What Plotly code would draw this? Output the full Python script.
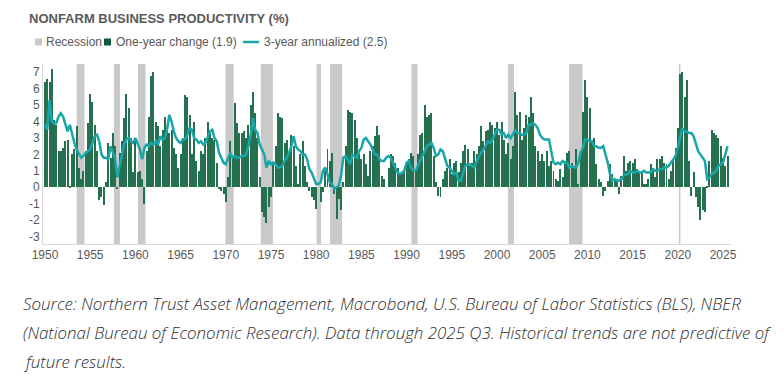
import plotly.graph_objects as go

# ---------------- data ----------------
start_year = 1950
quarters_per_year = 4

# One-year change (%), quarterly, 1950Q1 .. 2025Q3
one_year_change = [
    6.4, 6.6, 6.4, 7.2,     # 1950
    4.1, 3.8, 2.2, 2.2,     # 1951
    2.4, 2.8, 2.9, 0.1,     # 1952
    2.0, 2.3, 3.7, 1.2,     # 1953
    0.5, 1.0, 2.2, 3.9,     # 1954
    5.7, 5.2, 3.8, 2.2,     # 1955
    -0.8, -0.6, -1.1, 0.3,  # 1956
    2.7, 1.8, 3.3, 2.5,     # 1957
    -0.1, 2.1, 2.8, 4.2,    # 1958
    5.7, 4.8, 3.0, 0.9,     # 1959
    3.0, 0.9, 1.0, 0.5,     # 1960
    -1.0, 2.2, 4.3, 6.8,    # 1961
    7.0, 4.0, 3.7, 2.5,     # 1962
    3.5, 4.3, 3.5, 3.3,     # 1963
    3.5, 2.4, 2.0, 1.2,     # 1964
    2.0, 3.0, 5.6, 5.5,     # 1965
    4.4, 2.0, 4.0, 1.6,     # 1966
    1.0, 2.2, 2.0, 3.0,     # 1967
    4.0, 3.3, 3.0, 2.9,     # 1968
    1.5, -0.1, -0.2, -0.4,  # 1969
    -0.9, 0.6, 2.8, 1.9,    # 1970
    5.1, 3.9, 3.3, 3.3,     # 1971
    3.4, 3.0, 3.8, 5.0,     # 1972
    5.8, 4.5, 3.0, 0.6,     # 1973
    -1.5, -1.8, -2.2, -1.2, # 1974
    -0.6, 1.5, 2.5, 4.5,    # 1975
    4.3, 4.2, 2.7, 2.9,     # 1976
    2.0, 3.2, 2.5, 1.3,     # 1977
    0.2, 2.0, 2.8, 1.3,     # 1978
    0.3, -0.2, -0.6, -0.8,  # 1979
    -1.3, 0.0, -0.9, -0.3,  # 1980
    1.0, 2.3, 1.6, 2.1,     # 1981
    -0.4, -1.9, -0.7, -1.4, # 1982
    0.3, 2.5, 4.7, 4.6,     # 1983
    4.5, 4.1, 3.0, 2.0,     # 1984
    1.7, 2.0, 1.4, 0.7,     # 1985
    2.2, 2.5, 3.1, 3.7,     # 1986
    3.2, 0.7, 0.5, 0.0,     # 1987
    1.2, 2.0, 1.9, 1.5,     # 1988
    1.2, 0.8, 0.8, 0.9,     # 1989
    1.5, 1.7, 2.1, 1.9,     # 1990
    1.0, 2.0, 3.2, 3.3,     # 1991
    5.0, 4.3, 4.4, 4.5,     # 1992
    1.9, 0.3, -0.5, -0.6,   # 1993
    0.5, 1.0, 1.2, 1.7,     # 1994
    0.8, 1.5, 1.6, 0.9,     # 1995
    1.5, 2.2, 2.6, 2.3,     # 1996
    1.3, 1.5, 2.2, 2.0,     # 1997
    2.5, 3.7, 2.8, 3.4,     # 1998
    3.5, 4.0, 3.8, 3.6,     # 1999
    4.0, 3.2, 4.0, 2.9,     # 2000
    2.0, 2.7, 1.7, 2.5,     # 2001
    5.8, 4.4, 4.6, 2.9,     # 2002
    3.6, 4.4, 4.3, 5.5,     # 2003
    4.5, 2.5, 2.2, 1.6,     # 2004
    2.0, 1.6, 2.2, 1.3,     # 2005
    1.6, 1.0, 0.5, 0.4,     # 2006
    1.1, 0.6, 1.6, 2.1,     # 2007
    2.2, 1.5, 1.3, 2.3,     # 2008
    0.2, 2.2, 4.6, 6.5,     # 2009
    5.5, 4.8, 2.8, 3.0,     # 2010
    1.4, 0.5, 0.3, -0.5,    # 2011
    -0.2, 0.4, 1.4, 0.8,    # 2012
    0.5, 0.5, -0.4, 0.7,    # 2013
    1.9, 1.0, 1.5, 1.6,     # 2014
    1.5, 1.7, 1.1, 0.9,     # 2015
    1.0, 0.2, 0.2, 0.5,     # 2016
    1.4, 1.2, 0.6, 1.7,     # 2017
    1.7, 1.9, 1.5, 1.4,     # 2018
    0.5, 1.0, 1.6, 2.4,     # 2019
    3.6, 6.9, 7.0, 5.5,     # 2020
    6.5, 1.6, -0.5, 0.9,    # 2021
    -0.6, -1.2, -2.0, -1.4, # 2022
    -1.5, 0.1, 1.6, 3.5,    # 2023
    3.3, 3.2, 3.0, 2.5,     # 2024
    1.8, 1.3, 1.9,          # 2025
]

# 3-year annualized (%), quarterly, 1950Q1 .. 2025Q3
three_year_annualized = [
    3.8, 3.5, 5.3, 4.0,     # 1950
    3.9, 3.9, 4.3, 4.5,     # 1951
    4.3, 3.9, 3.4, 3.8,     # 1952
    3.2, 2.7, 2.3, 2.0,     # 1953
    1.8, 1.9, 2.1, 2.2,     # 1954
    2.3, 2.7, 3.1, 3.2,     # 1955
    2.8, 2.0, 1.8, 1.8,     # 1956
    1.7, 2.5, 2.2, 1.8,     # 1957
    0.6, 1.2, 2.0, 2.6,     # 1958
    2.9, 3.0, 2.8, 2.7,     # 1959
    3.0, 2.6, 2.3, 1.7,     # 1960
    2.4, 2.6, 2.5, 2.7,     # 1961
    2.6, 2.8, 2.6, 3.1,     # 1962
    2.9, 3.0, 3.5, 4.4,     # 1963
    4.0, 3.4, 3.0, 2.8,     # 1964
    2.7, 2.9, 2.9, 3.2,     # 1965
    3.6, 3.5, 3.0, 2.9,     # 1966
    2.7, 2.8, 2.6, 2.7,     # 1967
    3.0, 3.4, 3.5, 3.0,     # 1968
    2.8, 2.1, 1.8, 1.5,     # 1969
    1.4, 1.8, 2.1, 1.8,     # 1970
    1.9, 1.8, 1.8, 1.9,     # 1971
    1.9, 2.0, 2.5, 3.2,     # 1972
    4.2, 3.5, 3.3, 2.6,     # 1973
    2.3, 2.0, 1.2, 1.6,     # 1974
    1.4, 1.5, 1.4, 1.2,     # 1975
    1.2, 1.3, 1.6, 1.8,     # 1976
    2.1, 2.5, 3.1, 2.5,     # 1977
    2.3, 2.2, 2.0, 2.0,     # 1978
    1.7, 1.1, 0.9, 0.6,     # 1979
    0.2, 0.2, 0.3, 1.0,     # 1980
    1.2, 0.8, 0.3, 0.2,     # 1981
    -0.1, 0.0, 0.1, 0.7,    # 1982
    1.8, 1.9, 1.7, 1.4,     # 1983
    2.0, 1.9, 1.8, 2.2,     # 1984
    2.4, 2.9, 3.0, 2.8,     # 1985
    2.6, 2.3, 2.0, 2.0,     # 1986
    1.7, 1.6, 1.6, 1.8,     # 1987
    1.9, 1.8, 1.5, 1.2,     # 1988
    0.9, 0.8, 0.9, 1.0,     # 1989
    1.5, 1.6, 1.2, 1.0,     # 1990
    1.0, 1.3, 1.6, 1.9,     # 1991
    2.3, 2.5, 2.6, 2.7,     # 1992
    2.4, 1.9, 2.0, 2.3,     # 1993
    2.2, 1.8, 1.3, 1.2,     # 1994
    1.0, 0.8, 0.9, 0.4,     # 1995
    0.4, 0.9, 1.3, 1.4,     # 1996
    1.4, 1.3, 1.2, 1.6,     # 1997
    1.9, 2.1, 2.3, 2.6,     # 1998
    2.8, 2.7, 2.9, 3.2,     # 1999
    3.5, 3.5, 3.2, 3.3,     # 2000
    3.0, 3.2, 3.0, 3.2,     # 2001
    3.5, 3.3, 3.3, 3.2,     # 2002
    3.2, 3.3, 3.8, 3.8,     # 2003
    3.9, 3.8, 3.6, 3.2,     # 2004
    3.0, 2.9, 2.9, 2.9,     # 2005
    2.2, 1.5, 1.4, 1.5,     # 2006
    1.4, 1.6, 1.5, 1.5,     # 2007
    1.2, 1.3, 1.2, 1.2,     # 2008
    1.5, 2.1, 2.4, 2.9,     # 2009
    2.9, 2.8, 2.8, 2.5,     # 2010
    2.5, 2.4, 2.4, 2.5,     # 2011
    2.0, 1.5, 0.8, 0.4,     # 2012
    0.5, 0.4, 0.4, 0.5,     # 2013
    0.7, 0.8, 0.8, 1.0,     # 2014
    0.9, 0.9, 1.0, 0.9,     # 2015
    0.9, 1.0, 0.9, 0.9,     # 2016
    0.9, 1.1, 1.0, 1.0,     # 2017
    1.1, 1.1, 1.2, 1.2,     # 2018
    1.3, 1.5, 1.7, 1.9,     # 2019
    2.4, 3.0, 3.6, 3.4,     # 2020
    3.4, 3.3, 3.3, 3.1,     # 2021
    2.7, 2.2, 2.0, 1.8,     # 2022
    1.6, 0.5, 0.6, 0.8,     # 2023
    0.9, 1.0, 1.3, 1.4,     # 2024
    1.5, 2.0, 2.5,          # 2025
]

# NBER recessions (peak, trough) in decimal years
recession_starts = [1953.50, 1957.62, 1960.29, 1969.96, 1973.87, 1980.04,
                    1981.54, 1990.54, 2001.21, 2007.96, 2020.12]
recession_ends = [1954.37, 1958.29, 1961.12, 1970.87, 1975.21, 1980.54,
                  1982.87, 1991.21, 2001.87, 2009.46, 2020.29]

tick_years = list(range(1950, 2030, 5))
tick_labels = [str(y) for y in tick_years]
y_ticks = list(range(-3, 8))

title_text = "NONFARM BUSINESS PRODUCTIVITY (%)"
legend_labels = ["Recession", "One-year change (1.9)", "3-year annualized (2.5)"]
footnote_lines = [
    "Source: Northern Trust Asset Management, Macrobond, U.S. Bureau of Labor Statistics (BLS), NBER",
    "(National Bureau of Economic Research). Data through 2025 Q3. Historical trends are not predictive of",
    "future results.",
]

# ---------------- styling ----------------
W, H = 784, 378
ML, MR, MT, MB = 43, 53, 64, 134
PW, PH = W - ML - MR, H - MT - MB

GREEN = "#24704f"
GREEN_LEG = "#0f5a3c"
TEAL = "#18a6a8"
GREY_REC = "#c9c9c9"
TXT = "#595959"
FONT = "Liberation Sans, Arial, sans-serif"


def fx(px):
    return (px - ML) / PW


def fy(py):
    return (H - MB - py) / PH


x_q = [start_year + i / quarters_per_year for i in range(len(one_year_change))]

fig = go.Figure()
fig.add_trace(go.Bar(
    x=x_q, y=one_year_change, width=0.11,
    marker=dict(color=GREEN, line=dict(width=0)),
    name=legend_labels[1], showlegend=False,
))
fig.add_trace(go.Scatter(
    x=x_q, y=three_year_annualized, mode="lines",
    line=dict(color=TEAL, width=2.5),
    name=legend_labels[2], showlegend=False,
))

shapes = []
for s, e in zip(recession_starts, recession_ends):
    shapes.append(dict(type="rect", xref="x", yref="paper", x0=s, x1=e, y0=0, y1=1,
                       fillcolor=GREY_REC, line=dict(width=0), layer="below"))

# manual legend
leg_y = 42
shapes.append(dict(type="rect", xref="paper", yref="paper",
                   x0=fx(35), x1=fx(42), y0=fy(leg_y + 3.5), y1=fy(leg_y - 3.5),
                   fillcolor=GREY_REC, line=dict(width=0)))
shapes.append(dict(type="rect", xref="paper", yref="paper",
                   x0=fx(104), x1=fx(111), y0=fy(leg_y + 3.5), y1=fy(leg_y - 3.5),
                   fillcolor=GREEN_LEG, line=dict(width=0)))
shapes.append(dict(type="line", xref="paper", yref="paper",
                   x0=fx(243), x1=fx(259), y0=fy(leg_y), y1=fy(leg_y),
                   line=dict(color=TEAL, width=2.5)))

annotations = [
    dict(text="<b>" + title_text + "</b>", xref="paper", yref="paper",
         x=fx(27), y=fy(18), xanchor="left", yanchor="middle", showarrow=False,
         font=dict(family=FONT, size=13, color="#5a5a5a")),
]
for label, px in zip(legend_labels, [44, 114, 262]):
    annotations.append(dict(text=label, xref="paper", yref="paper",
                            x=fx(px), y=fy(leg_y), xanchor="left", yanchor="middle",
                            showarrow=False, font=dict(family=FONT, size=12, color=TXT)))
for line, py in zip(footnote_lines, [303, 332, 361]):
    annotations.append(dict(text="<i>" + line + "</i>", xref="paper", yref="paper",
                            x=fx(21), y=fy(py), xanchor="left", yanchor="middle",
                            showarrow=False,
                            font=dict(family="Open Sans, sans-serif", size=16.9,
                                      color="#2e2e2e", weight=300)))

fig.update_layout(
    width=W, height=H,
    margin=dict(l=ML, r=MR, t=MT, b=MB, pad=0),
    paper_bgcolor="white", plot_bgcolor="white",
    bargap=0, showlegend=False,
    shapes=shapes, annotations=annotations,
    font=dict(family=FONT, size=12, color=TXT),
    xaxis=dict(range=[1949.78, 2025.885], tickvals=tick_years, ticktext=tick_labels,
               showgrid=False, zeroline=False, showline=True, linecolor="#d9d9d9",
               linewidth=1, ticks="", tickfont=dict(family=FONT, size=12, color=TXT)),
    yaxis=dict(range=[-3.45, 7.5], tickvals=y_ticks, ticktext=[str(v) for v in y_ticks],
               showgrid=False, zeroline=False, showline=True, linecolor="#d9d9d9",
               linewidth=1, ticks="", tickfont=dict(family=FONT, size=12, color=TXT)),
)

fig.write_html("out.html", config={"displayModeBar": False},
               post_script="document.body.style.margin='0';document.body.style.padding='0';")
